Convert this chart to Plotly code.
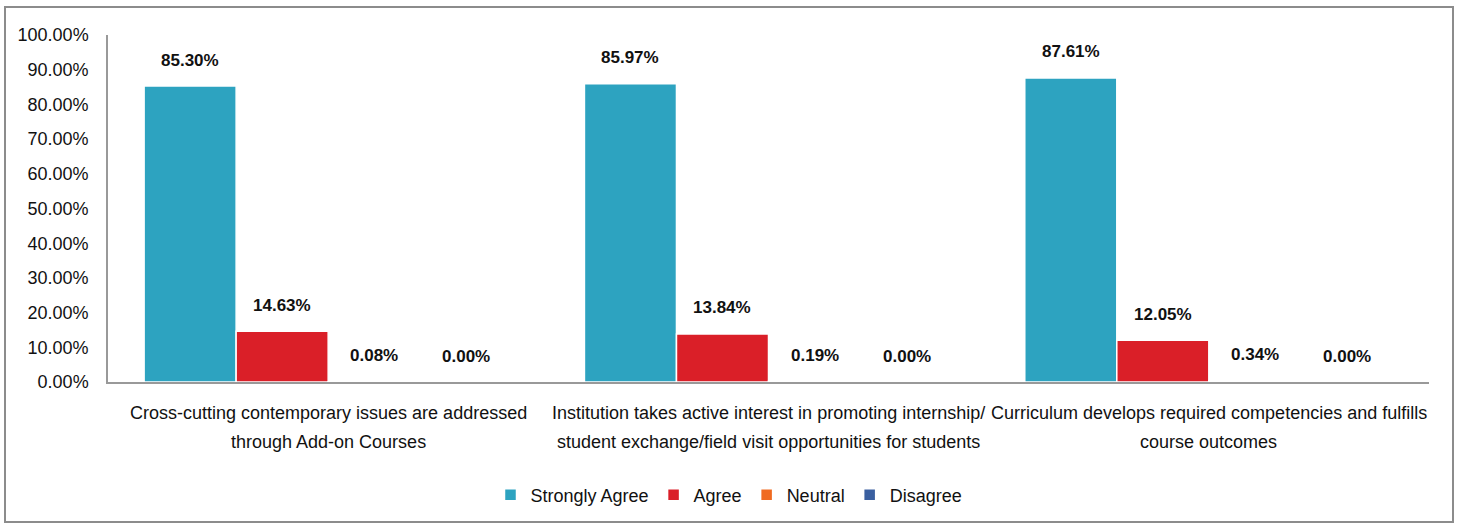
import plotly.graph_objects as go

categories = [
    "Cross-cutting contemporary issues are addressed<br>through Add-on Courses",
    "Institution takes active interest in promoting internship/<br>student exchange/field visit opportunities for students",
    "Curriculum develops required competencies and fulfills<br>course outcomes",
]
series_names = ["Strongly Agree", "Agree", "Neutral", "Disagree"]
strongly_agree = [85.30, 85.97, 87.61]
agree = [14.63, 13.84, 12.05]
neutral = [0.08, 0.19, 0.34]
disagree = [0.00, 0.00, 0.00]
y_ticks = [0, 10, 20, 30, 40, 50, 60, 70, 80, 90, 100]

colors = ["#2DA3C0", "#DA1F28", "#F06A20", "#3A5FA0"]
series = [strongly_agree, agree, neutral, disagree]

FONT = "Liberation Sans, Arial"
W, H = 1459, 527
L, R, T, B = 108, 1459 - 1429, 35, 527 - 382
pw, ph = W - L - R, H - T - B

fig = go.Figure()
for name, vals, col in zip(series_names, series, colors):
    fig.add_trace(go.Bar(
        name=name, x=categories, y=vals,
        marker=dict(color=col, line=dict(color="white", width=1.5)),
        textposition="none",
    ))

nser = len(series)
bargap = 0.164
bw = (1 - bargap) / nser
for si, vals in enumerate(series):
    for ci, v in enumerate(vals):
        xc = ci - (1 - bargap) / 2 + bw * (si + 0.5)
        fig.add_annotation(
            x=xc, y=v, xref="x", yref="y",
            text=f"<b>{v:.2f}%</b>", showarrow=False,
            yshift=26, font=dict(family=FONT, size=17, color="#111"),
        )

# category labels (two lines each) below axis
for ci, cat in enumerate(categories):
    for li, line in enumerate(cat.split("<br>")):
        fig.add_annotation(
            x=ci, y=0, xref="x", yref="paper", text=line, showarrow=False,
            yshift=-(43 + 29 * li), font=dict(family=FONT, size=18, color="#111"),
        )

x0 = (5 - L) / pw
x1 = (1453 - L) / pw
y1 = (H - B - 7) / ph
y0 = (H - B - 522) / ph
fig.add_shape(type="rect", xref="paper", yref="paper", x0=x0, x1=x1, y0=y0, y1=y1,
              line=dict(color="#8c8c8c", width=2), fillcolor="rgba(0,0,0,0)", layer="below")

fig.update_layout(
    width=W, height=H,
    margin=dict(l=L, r=R, t=T, b=B),
    barmode="group", bargap=bargap, bargroupgap=0.0,
    plot_bgcolor="white", paper_bgcolor="white",
    font=dict(family=FONT, size=18, color="#111"),
    legend=dict(orientation="h", x=(729 - L) / pw, xanchor="center", y=(H - B - 495) / ph, yanchor="middle",
                font=dict(size=18), itemwidth=30, traceorder="normal"),
    xaxis=dict(type="category", range=[-0.5, 2.5], showline=True, linecolor="#999", linewidth=1.5,
               ticks="", showticklabels=False, showgrid=False, zeroline=False),
    yaxis=dict(range=[0, 100], tickvals=y_ticks, ticktext=[f"{v:.2f}%" for v in y_ticks],
               showline=True, linecolor="#999", linewidth=1.5, showgrid=False, zeroline=False,
               ticks="", ticklabelstandoff=14, tickfont=dict(size=18)),
    showlegend=True,
)

fig.write_html("out.html", config={"displayModeBar": False},
               post_script="document.body.style.margin='0';document.body.style.overflow='hidden';")
